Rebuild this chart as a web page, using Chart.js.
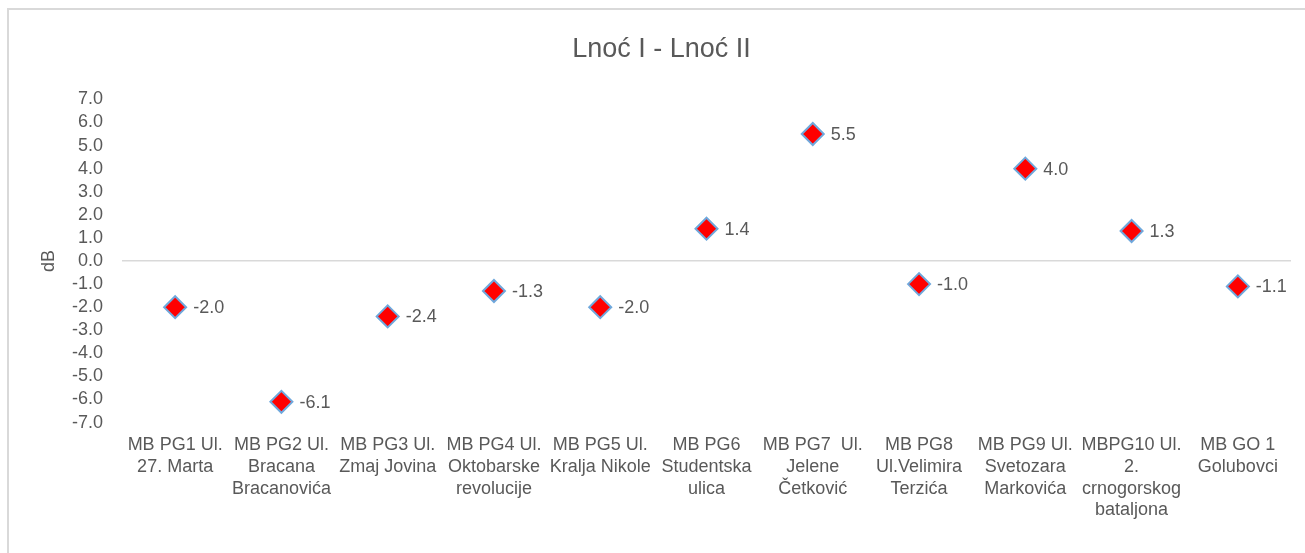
<!DOCTYPE html>
<html>
<head>
<meta charset="utf-8">
<script src="https://cdn.jsdelivr.net/npm/chart.js@4/dist/chart.umd.min.js"></script>
<style>
  html, body { margin: 0; padding: 0; background: #ffffff; }
  #wrap { position: relative; width: 1305px; height: 553px; overflow: hidden; }
  #frame { position: absolute; left: 7px; top: 8px; width: 1400px; height: 700px;
           border-left: 2px solid #d9d9d9; border-top: 2px solid #d9d9d9; box-sizing: border-box; }
  canvas { position: absolute; left: 0; top: 0; }
</style>
</head>
<body>
<div id="wrap">
  <div id="frame"></div>
  <canvas id="c" width="1305" height="553"></canvas>
</div>
<script>
const chartTitle = 'Lnoć I - Lnoć II';
const yAxisTitle = 'dB';
const categories = [
  ['MB PG1 Ul.', '27. Marta'],
  ['MB PG2 Ul.', 'Bracana', 'Bracanovića'],
  ['MB PG3 Ul.', 'Zmaj Jovina'],
  ['MB PG4 Ul.', 'Oktobarske', 'revolucije'],
  ['MB PG5 Ul.', 'Kralja Nikole'],
  ['MB PG6', 'Studentska', 'ulica'],
  ['MB PG7  Ul.', 'Jelene', 'Četković'],
  ['MB PG8', 'Ul.Velimira', 'Terzića'],
  ['MB PG9 Ul.', 'Svetozara', 'Markovića'],
  ['MBPG10 Ul.', '2.', 'crnogorskog', 'bataljona'],
  ['MB GO 1', 'Golubovci']
];
const values = [-2.0, -6.1, -2.4, -1.3, -2.0, 1.4, 5.5, -1.0, 4.0, 1.3, -1.1];
const yMin = -7, yMax = 7, yStep = 1;

const FONT = '"Liberation Sans", Arial, sans-serif';
const TEXT = '#595959';

const dataLabels = {
  id: 'dataLabels',
  afterDatasetsDraw(chart) {
    const ctx = chart.ctx;
    const meta = chart.getDatasetMeta(0);
    ctx.save();
    ctx.font = '18px ' + FONT;
    ctx.fillStyle = TEXT;
    ctx.textAlign = 'left';
    ctx.textBaseline = 'middle';
    meta.data.forEach((pt, i) => {
      ctx.fillText(values[i].toFixed(1), pt.x + 18, pt.y + 1);
    });
    ctx.restore();
  }
};

new Chart(document.getElementById('c'), {
  type: 'line',
  data: {
    labels: categories,
    datasets: [{
      data: values,
      showLine: false,
      pointStyle: 'rectRot',
      pointRadius: 11,
      pointHoverRadius: 11,
      pointBackgroundColor: '#ff0000',
      pointBorderColor: '#6fa8dc',
      pointBorderWidth: 2
    }]
  },
  options: {
    responsive: false,
    animation: false,
    events: [],
    layout: { padding: { top: 10, right: 14, bottom: 20, left: 32 } },
    plugins: {
      legend: { display: false },
      tooltip: { enabled: false },
      title: {
        display: true,
        text: chartTitle,
        color: TEXT,
        font: { family: FONT, size: 27, weight: 'normal', lineHeight: 1.2 },
        padding: { top: 23, bottom: 34 }
      }
    },
    scales: {
      x: {
        type: 'category',
        offset: true,
        grid: { display: false, drawTicks: false },
        border: { display: false },
        ticks: {
          color: TEXT,
          font: { family: FONT, size: 18, lineHeight: 1.2 },
          padding: 12,
          autoSkip: false,
          maxRotation: 0,
          minRotation: 0
        }
      },
      y: {
        min: yMin,
        max: yMax,
        afterFit(scale) { scale.width = 90; },
        grid: {
          drawTicks: false,
          lineWidth: 1.5,
          color: (c) => (c.tick && c.tick.value === 0 ? '#d9d9d9' : 'rgba(0,0,0,0)')
        },
        border: { display: false },
        title: {
          display: true,
          text: yAxisTitle,
          color: TEXT,
          font: { family: FONT, size: 18, lineHeight: 1.2 },
          padding: { top: 6, bottom: 0 }
        },
        ticks: {
          stepSize: yStep,
          autoSkip: false,
          color: TEXT,
          font: { family: FONT, size: 18 },
          padding: 19,
          callback: (v) => Number(v).toFixed(1)
        }
      }
    }
  },
  plugins: [dataLabels]
});
</script>
</body>
</html>
